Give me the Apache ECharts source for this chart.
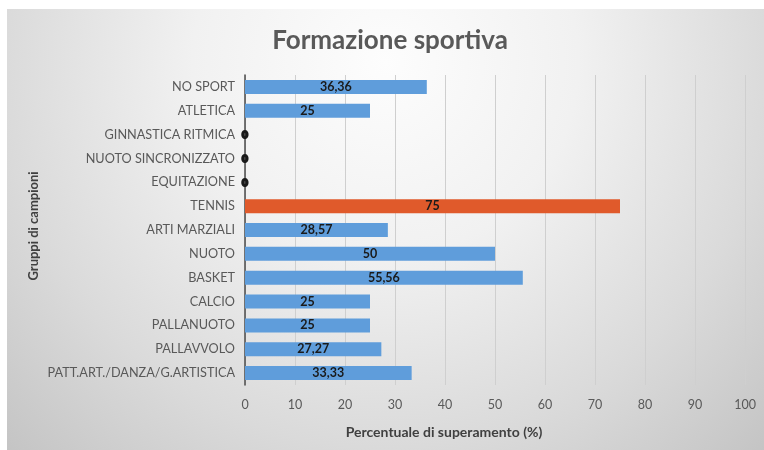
<!DOCTYPE html>
<html>
<head>
<meta charset="utf-8">
<script src="https://cdn.jsdelivr.net/npm/echarts@6/dist/echarts.min.js"></script>
<style>
html,body{margin:0;padding:0;background:#ffffff;}
#chart{width:764px;height:450px;}
</style>
</head>
<body>
<div id="chart"></div>
<script>
const categories = ["PATT.ART./DANZA/G.ARTISTICA","PALLAVVOLO","PALLANUOTO","CALCIO","BASKET","NUOTO","ARTI MARZIALI","TENNIS","EQUITAZIONE","NUOTO SINCRONIZZATO","GINNASTICA RITMICA","ATLETICA","NO SPORT"];
const values = [33.33,27.27,25,25,55.56,50,28.57,75,0,0,0,25,36.36];
const highlightCategory = "TENNIS";
const xTicks = [0,10,20,30,40,50,60,70,80,90,100];

const FONT = "Lato, 'Liberation Sans', sans-serif";
const chart = echarts.init(document.getElementById('chart'), null, {renderer:'canvas'});

const data = values.map((v,i)=>({
  value: v,
  itemStyle: {color: categories[i]===highlightCategory ? '#e05a2b' : '#5f9ddb'},
  label: v===0 ? {fontSize:10, textBorderColor:'#1a1a1a', textBorderWidth:2} : undefined
}));

chart.setOption({
  animation:false,
  graphic:[
    {type:'rect', z:-10, silent:true, shape:{x:7,y:9,width:757,height:441},
     style:{fill:{type:'radial', x:0.5, y:0.12, r:1.25, colorStops:[
       {offset:0,color:'#fdfdfd'},{offset:0.35,color:'#f1f1f1'},{offset:0.7,color:'#dadada'},{offset:1,color:'#c3c3c3'}]}}},
    {type:'text', x:390, y:41, style:{text:'Formazione sportiva', font:"bold 26px "+FONT, fill:'#595959', textAlign:'center', textVerticalAlign:'middle'}},
    {type:'text', x:444, y:432, style:{text:'Percentuale di superamento (%)', font:"bold 14px "+FONT, fill:'#404040', textAlign:'center', textVerticalAlign:'middle'}},
    {type:'text', x:34, y:226, rotation:Math.PI/2, style:{text:'Gruppi di campioni', font:"bold 13px "+FONT, fill:'#404040', textAlign:'center', textVerticalAlign:'middle'}}
  ],
  grid:{left:245, right:19, top:75, bottom:65, containLabel:false},
  xAxis:{
    type:'value', min:0, max:100, interval:10,
    axisLine:{show:false}, axisTick:{show:false},
    axisLabel:{color:'#595959', fontSize:12.5, fontFamily:FONT, margin:13,
      formatter:(v)=> xTicks.includes(v) ? String(v) : ''},
    splitLine:{show:true, lineStyle:{color:'#cfcfcf', width:1}}
  },
  yAxis:{
    type:'category', data:categories,
    axisLine:{show:true, lineStyle:{color:'#4a4a4a', width:1.5}},
    axisTick:{show:false},
    axisLabel:{color:'#595959', fontSize:12.7, fontFamily:FONT, margin:10}
  },
  series:[{
    type:'bar', data:data, barWidth:14,
    label:{show:true, position:'inside', color:'#1a1a1a', fontWeight:'bold', fontSize:12.5, fontFamily:FONT,
      formatter:(p)=> String(p.value).replace('.', ',')}
  }]
});
</script>
</body>
</html>
